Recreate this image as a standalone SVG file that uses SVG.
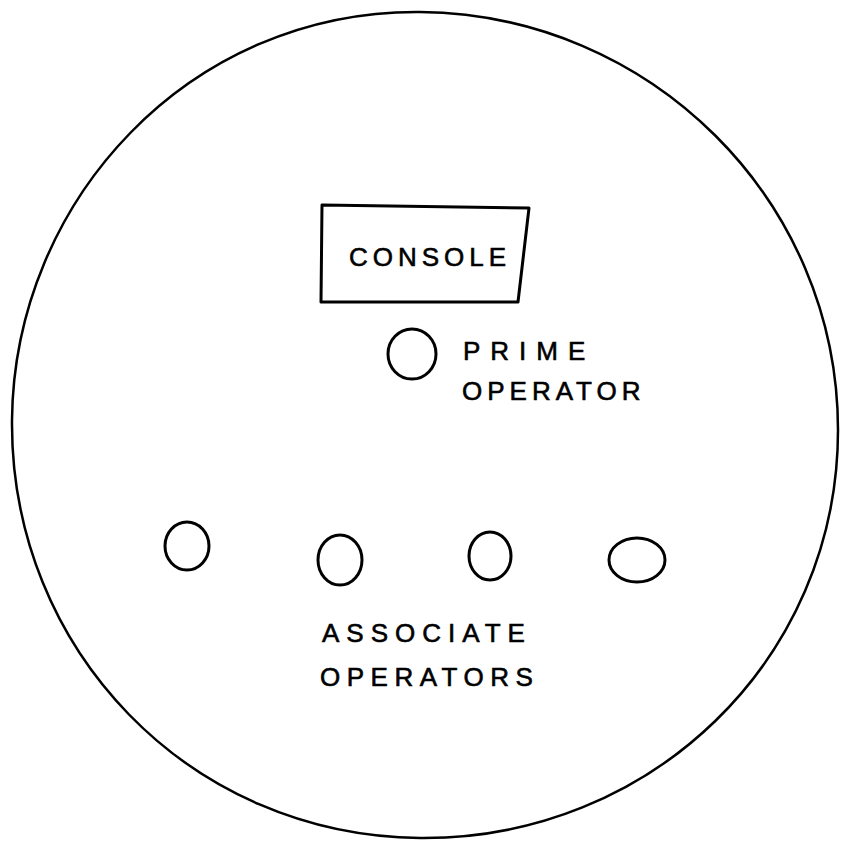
<svg xmlns="http://www.w3.org/2000/svg" width="842" height="844" viewBox="0 0 842 844">
<style>
.ln{fill:none;stroke:#000;stroke-width:3;stroke-linecap:round;stroke-linejoin:round}
.lb{font-family:"Liberation Sans",Arial,sans-serif;font-size:26px;fill:#000;letter-spacing:4px;stroke:#000;stroke-width:0.6}
</style>
<rect width="842" height="844" fill="#fff"/>
<g id="room">
<path class="ln" style="stroke-width:2.5" d="M420 12 C650 14 838 200 838 430 C838 660 650 840 420 838 C190 836 10 650 12 420 C14 200 190 10 420 12 Z"/>
</g>
<g id="console">
<path class="ln" d="M322 205 L529 208 L518 302 L321 302 Z"/>
<text class="lb" x="349" y="266" font-size="22" style="letter-spacing:5px">CONSOLE</text>
</g>
<g id="prime-operator">
<ellipse class="ln" cx="412" cy="354" rx="24" ry="25"/>
<text class="lb" x="463" y="360" style="letter-spacing:10px">PRIME</text>
<text class="lb" x="462" y="400" style="letter-spacing:5px">OPERATOR</text>
</g>
<g id="associate-operators">
<ellipse class="ln" cx="187" cy="546" rx="22" ry="24"/>
<ellipse class="ln" cx="340" cy="560" rx="22" ry="25"/>
<ellipse class="ln" cx="490" cy="556" rx="21" ry="24"/>
<ellipse class="ln" cx="637" cy="560" rx="28" ry="22"/>
<text class="lb" x="322" y="642" style="letter-spacing:7px">ASSOCIATE</text>
<text class="lb" x="320" y="686" style="letter-spacing:6.5px">OPERATORS</text>
</g>
<g id="connectors"></g>
</svg>
